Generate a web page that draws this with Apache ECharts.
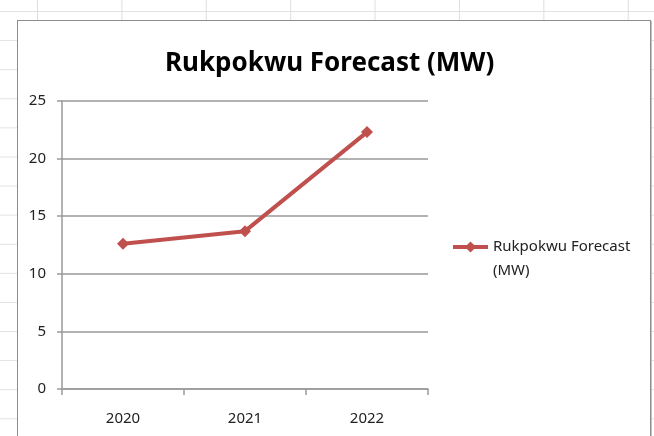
<!DOCTYPE html>
<html>
<head>
<meta charset="utf-8">
<script src="https://cdn.jsdelivr.net/npm/echarts@6/dist/echarts.min.js"></script>
<style>
  html, body { margin: 0; padding: 0; width: 654px; height: 436px; overflow: hidden; background: #fff; }
  #bg { position: absolute; left: 0; top: 0; width: 654px; height: 436px;
    background-image:
      linear-gradient(to right, #dedede 1px, transparent 1px),
      linear-gradient(to bottom, #e2e2e2 1px, transparent 1px);
    background-size: 84.4px 100%, 100% 29.1px;
    background-position: 37px 0, 0 11px;
  }
  #frame { position: absolute; left: 17px; top: 20px; width: 632px; height: 430px;
    background: #fff; border: 1px solid #8c8c8c; box-shadow: 1px 1px 0 #c4c4c4; }
  #chart { position: absolute; left: 0; top: 0; width: 654px; height: 436px; }
</style>
</head>
<body>
<div id="bg"></div>
<div id="frame"></div>
<div id="chart"></div>
<script>
const titleText = 'Rukpokwu Forecast (MW)';
const seriesName = 'Rukpokwu Forecast (MW)';
const categories = ['2020', '2021', '2022'];
const values = [12.6, 13.7, 22.3];
const yTicks = { min: 0, max: 25, interval: 5 };

const FONT = '"Noto Sans", "Open Sans", sans-serif';
const chart = echarts.init(document.getElementById('chart'), null, { renderer: 'canvas' });
chart.setOption({
  backgroundColor: 'transparent',
  animation: false,
  title: {
    text: titleText,
    left: 160,
    top: 46,
    textStyle: { fontFamily: FONT, fontWeight: 'bold', fontSize: 26, color: '#000' }
  },
  legend: {
    left: 446,
    top: 206,
    orient: 'vertical',
    itemWidth: 35,
    itemHeight: 14,
    lineStyle: { width: 4 },
    formatter: function (n) { return ' \n' + n.replace(' (MW)', '\n(MW)'); },
    textStyle: { fontFamily: FONT, fontSize: 15, color: '#222', lineHeight: 24 }
  },
  grid: { left: 62, top: 101, width: 366, height: 288, containLabel: false },
  xAxis: {
    type: 'category',
    data: categories,
    boundaryGap: true,
    axisLine: { lineStyle: { color: '#9a9a9a', width: 1.5 } },
    axisTick: { show: true, length: 6, alignWithLabel: false, lineStyle: { color: '#9a9a9a', width: 1.5 } },
    axisLabel: { margin: 22, fontFamily: FONT, fontSize: 15, color: '#222' }
  },
  yAxis: {
    type: 'value',
    min: yTicks.min, max: yTicks.max, interval: yTicks.interval,
    axisLine: { show: true, lineStyle: { color: '#9a9a9a', width: 1.5 } },
    axisTick: { show: true, length: 5, lineStyle: { color: '#9a9a9a', width: 1.5 } },
    splitLine: { show: true, lineStyle: { color: '#9a9a9a', width: 1.5 } },
    axisLabel: { margin: 16, fontFamily: FONT, fontSize: 15, color: '#222' }
  },
  series: [{
    name: seriesName,
    type: 'line',
    data: values,
    symbol: 'diamond',
    symbolSize: 12,
    itemStyle: { color: '#c0504d' },
    lineStyle: { color: '#c0504d', width: 4 }
  }]
});
</script>
</body>
</html>
